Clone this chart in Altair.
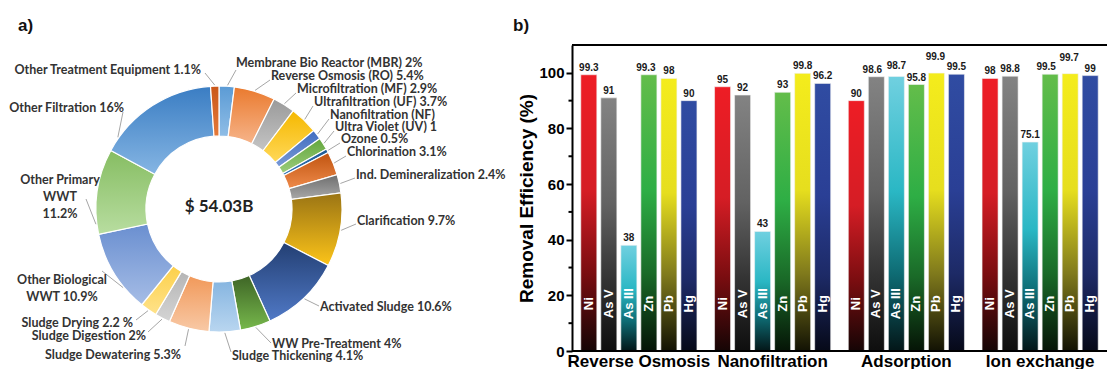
import math
import altair as alt
import pandas as pd

# ---------------- data: panel a (donut) ----------------
seg_names = [
    "Membrane Bio Reactor (MBR)", "Reverse Osmosis (RO)", "Microfiltration (MF)",
    "Ultrafiltration (UF)", "Nanofiltration (NF)", "Ultra Violet (UV)", "Ozone",
    "Chlorination", "Ind. Demineralization", "Clarification", "Activated Sludge",
    "WW Pre-Treatment", "Sludge Thickening", "Sludge Dewatering", "Sludge Digestion",
    "Sludge Drying", "Other Biological WWT", "Other Primary WWT", "Other Filtration",
    "Other Treatment Equipment",
]
seg_values = [2, 5.4, 2.9, 3.7, 1.3, 1.6, 0.5, 3.1, 2.4, 9.7, 10.6, 4, 4.1, 5.3, 2,
              2.2, 10.9, 11.2, 16, 1.1]
seg_label_lines = [
    ["Membrane Bio Reactor (MBR) 2%"], ["Reverse Osmosis (RO) 5.4%"],
    ["Microfiltration (MF) 2.9%"], ["Ultrafiltration (UF) 3.7%"],
    ["Nanofiltration (NF)"], ["Ultra Violet (UV) 1"], ["Ozone 0.5%"],
    ["Chlorination 3.1%"], ["Ind.  Demineralization 2.4%"], ["Clarification 9.7%"],
    ["Activated Sludge 10.6%"], ["WW Pre-Treatment 4%"], ["Sludge Thickening 4.1%"],
    ["Sludge Dewatering 5.3%"], ["Sludge Digestion 2%"], ["Sludge Drying 2.2 %"],
    ["Other Biological", "WWT 10.9%"], ["Other Primary", "WWT", "11.2%"],
    ["Other Filtration 16%"], ["Other Treatment Equipment 1.1%"],
]
center_text = "$ 54.03B"
panel_a = "a)"
panel_b = "b)"

# ---------------- data: panel b (bars) ----------------
methods = ["Reverse Osmosis", "Nanofiltration", "Adsorption", "Ion exchange"]
metals = ["Ni", "As V", "As III", "Zn", "Pb", "Hg"]
eff_ro = [99.3, 91, 38, 99.3, 98, 90]
eff_nf = [95, 92, 43, 93, 99.8, 96.2]
eff_ads = [90, 98.6, 98.7, 95.8, 99.9, 99.5]
eff_ix = [98, 98.8, 75.1, 99.5, 99.7, 99]
y_major = [0, 20, 40, 60, 80, 100]
y_minor = [10, 30, 50, 70, 90]
y_title = "Removal Efficiency (%)"

# ---------------- styles / layout ----------------
seg_colors = [
    ("#5b9bd5", "#8fbde6"), ("#ea7a2e", "#f6b48a"), ("#9a9a9a", "#c4c4c4"),
    ("#f5b800", "#ffd858"), ("#3f6cbf", "#7a9ad6"), ("#63a63c", "#9ccd7c"),
    ("#1f5a93", "#2e75b6"), ("#c0530f", "#ee8a4a"), ("#6e6e6e", "#a8a8a8"),
    ("#9a7414", "#fcc419"), ("#233f73", "#5079c6"), ("#3e6526", "#77b84c"),
    ("#86b5e0", "#b9d6f0"), ("#f1995a", "#f8c9a6"), ("#b5b5b5", "#d4d4d4"),
    ("#fcd04a", "#ffe28a"), ("#6a8fd0", "#a6bde6"), ("#86bd62", "#b8dda0"),
    ("#3a7dc3", "#85b5e3"), ("#c9571a", "#e57a3a"),
]
# page coordinates: text x, first-line y, align, leader end x, leader end y, anchor fraction
label_layout = [
    (236, 63, "left", 236, 70, 0.55), (271, 76, "left", 270, 80, 0.5),
    (297, 89, "left", 296, 93, 0.5), (314, 102, "left", 313, 106, 0.5),
    (330, 115, "left", 329, 119, 0.5), (335, 127, "left", 334, 131, 0.5),
    (341, 139, "left", 340, 143, 0.5), (347, 152, "left", 346, 156, 0.5),
    (356, 175, "left", 355, 178, 0.5), (357, 221, "left", 356, 224, 0.5),
    (320, 307, "left", 319, 306, 0.5), (272, 344, "left", 271, 343, 0.5),
    (232, 356, "left", 231, 352, 0.5), (181, 355, "right", 185, 346, 0.5),
    (146, 336, "right", 148, 332, 0.5), (133, 323, "right", 136, 320, 0.5),
    (62, 280, "center", 102, 271, 0.3), (60, 180, "center", 86, 199, 0.12),
    (124, 108, "right", 123, 112, 0.12), (201, 70, "right", 205, 73, 0.5),
]
VIEW_TOP = 45                       # page y of both panels' view origin
LEFT_X0, LEFT_Y0 = 8, VIEW_TOP      # page origin of the donut panel
LEFT_W = 500
PLOT_LEFT = 572                     # page x of the bar plot's y axis
CX, CY = 219 - LEFT_X0, 209 - LEFT_Y0
R_OUT, R_IN = 123, 73
LINE_H = 17
DONUT_FONT = "Lato"
BAR_FONT = "Liberation Sans"
PLOT_W, PLOT_H = 535, 306
BAR_OUTER = 0.44                    # xOffset outer padding (bar step = 20 px)

metal_grad = {
    "Ni": ["#ee1d25", "#d51d25", "#7a0d10", "#150505"],
    "As V": ["#838383", "#626262", "#333333", "#0e0e0e"],
    "As III": ["#70d0e0", "#2ab7c4", "#0e6b73", "#031618"],
    "Zn": ["#63bd4a", "#2eae45", "#1a6a28", "#051406"],
    "Pb": ["#f4ec1c", "#e6de1e", "#807a1c", "#121204"],
    "Hg": ["#304ca2", "#2a3f95", "#1d2a66", "#060918"],
}
grad_offsets = [0, 0.42, 0.72, 1]
label_nudge = {
    ("Reverse Osmosis", "Zn"): (-3, 0), ("Adsorption", "As V"): (-4, 0),
    ("Adsorption", "As III"): (0, -3), ("Adsorption", "Pb"): (-1, -9),
    ("Ion exchange", "Zn"): (-4, 0), ("Ion exchange", "Pb"): (-1, -9),
}

# ---------------- panel a ----------------
n = len(seg_values)
total = sum(seg_values)
donut_df = pd.DataFrame({"idx": list(range(n)), "name": seg_names, "value": seg_values})
theta_scale = alt.Scale(domain=[0, total], nice=False, zero=True)

left_layers = []
for i, (top, bot) in enumerate(seg_colors):
    grad = {"gradient": "linear", "x1": 0, "y1": 0, "x2": 0, "y2": 1,
            "stops": [{"offset": 0, "color": top}, {"offset": 1, "color": bot}]}
    left_layers.append(
        alt.Chart(donut_df)
        .transform_stack(stack="value", groupby=[], as_=["v0", "v1"],
                         sort=[alt.SortField("idx", order="ascending")])
        .transform_filter(alt.datum.idx == i)
        .mark_arc(fill=grad, stroke="white", strokeWidth=1.2,
                  innerRadius=R_IN, outerRadius=R_OUT)
        .encode(theta=alt.Theta("v0:Q", scale=theta_scale), theta2="v1:Q",
                x=alt.value(CX), y=alt.value(CY))
    )

lead_rows = []
cum = 0.0
for v, lay in zip(seg_values, label_layout):
    frac = lay[5]
    a = 2 * math.pi * (cum + frac * v) / total
    lead_rows.append({
        "x0": CX + (R_OUT + 1) * math.sin(a), "y0": CY - (R_OUT + 1) * math.cos(a),
        "x1": lay[3] - LEFT_X0, "y1": lay[4] - LEFT_Y0,
    })
    cum += v
lead_df = pd.DataFrame(lead_rows)
left_layers.append(
    alt.Chart(lead_df).mark_rule(color="#a6a6a6", strokeWidth=1).encode(
        x=alt.X("x0:Q", scale=None, axis=None), y=alt.Y("y0:Q", scale=None, axis=None),
        x2="x1:Q", y2="y1:Q")
)

lab_rows = []
for lines, lay in zip(seg_label_lines, label_layout):
    for k, t in enumerate(lines):
        lab_rows.append({"t": t, "px": lay[0] - LEFT_X0,
                         "py": lay[1] - LEFT_Y0 + k * LINE_H, "al": lay[2]})
lab_df = pd.DataFrame(lab_rows)
for al in ["left", "right", "center"]:
    left_layers.append(
        alt.Chart(lab_df).transform_filter(alt.datum.al == al)
        .mark_text(align=al, baseline="middle", font=DONUT_FONT, fontSize=12.5,
                   fontWeight="bold", color="#333333")
        .encode(x=alt.X("px:Q", scale=None, axis=None),
                y=alt.Y("py:Q", scale=None, axis=None), text="t:N")
    )

left_layers.append(
    alt.Chart(pd.DataFrame({"t": [center_text]}))
    .mark_text(align="center", baseline="middle", font=DONUT_FONT, fontSize=17,
               fontWeight="bold", color="#222222")
    .encode(text="t:N", x=alt.value(CX), y=alt.value(CY - 2))
)
left_layers.append(
    alt.Chart(pd.DataFrame({"t": [panel_a]}))
    .mark_text(align="left", baseline="middle", font=BAR_FONT, fontSize=17,
               fontWeight="bold", color="#111111")
    .encode(text="t:N", x=alt.value(18 - LEFT_X0), y=alt.value(26 - LEFT_Y0))
)
left = alt.layer(*left_layers).properties(width=LEFT_W, height=PLOT_H)

# ---------------- panel b ----------------
rows = []
for m, vals in zip(methods, [eff_ro, eff_nf, eff_ads, eff_ix]):
    for mt, v in zip(metals, vals):
        dx, dy = label_nudge.get((m, mt), (0, 0))
        rows.append({"method": m, "metal": mt, "value": v, "ndx": dx, "ndy": dy})
bars_df = pd.DataFrame(rows)

x_axis = alt.Axis(title=None, labelAngle=0, ticks=False, domain=False,
                  labelFont=BAR_FONT, labelFontSize=17, labelFontWeight="bold",
                  labelColor="black", labelPadding=2)
y_axis = alt.Axis(title=y_title, values=y_major, tickSize=6, tickWidth=2,
                  tickColor="black", domainWidth=2, domainColor="black", grid=False,
                  labelFont=BAR_FONT, labelFontSize=15, labelFontWeight="bold",
                  labelColor="black", labelPadding=2, titleFont=BAR_FONT,
                  titleFontSize=19, titleFontWeight="bold", titleColor="black",
                  titlePadding=2)
x_enc = alt.X("method:N", sort=methods,
              scale=alt.Scale(domain=methods, paddingInner=0, paddingOuter=0),
              axis=x_axis)
xo_enc = alt.XOffset("metal:N", sort=metals,
                     scale=alt.Scale(domain=metals, paddingInner=0.2, paddingOuter=BAR_OUTER))
y_scale = alt.Scale(domain=[0, 110], nice=False, zero=True)
y_enc = alt.Y("value:Q", scale=y_scale, axis=y_axis)

right_layers = []
for mt in metals:
    grad = {"gradient": "linear", "x1": 0, "y1": 0, "x2": 0, "y2": 1,
            "stops": [{"offset": o, "color": c} for o, c in zip(grad_offsets, metal_grad[mt])]}
    right_layers.append(
        alt.Chart(bars_df).transform_filter(alt.datum.metal == mt)
        .mark_bar(fill=grad, stroke="#f2f2f2", strokeWidth=0.6)
        .encode(x=x_enc, xOffset=xo_enc, y=y_enc)
    )

# top frame line and bottom axis line (the right edge is cut off as in the original)
right_layers.append(
    alt.Chart(pd.DataFrame({"value": [110, 0]}))
    .mark_rule(color="black", strokeWidth=2)
    .encode(y=y_enc, x=alt.value(0), x2=alt.value(PLOT_W))
)
right_layers.append(
    alt.Chart(pd.DataFrame({"value": y_minor}))
    .mark_rule(color="black", strokeWidth=2)
    .encode(y=y_enc, x=alt.value(-3.5), x2=alt.value(0))
)

nudges = sorted(set(label_nudge.values()) | {(0, 0)})
for dx, dy in nudges:
    right_layers.append(
        alt.Chart(bars_df)
        .transform_filter((alt.datum.ndx == dx) & (alt.datum.ndy == dy))
        .mark_text(baseline="bottom", align="center", dx=dx, dy=-2 + dy,
                   font=BAR_FONT, fontSize=10, fontWeight="bold", color="#1a1a1a")
        .encode(x=x_enc, xOffset=xo_enc, y=y_enc,
                text=alt.Text("value:Q", format="~g"))
    )

right_layers.append(
    alt.Chart(bars_df)
    .mark_text(angle=270, align="center", baseline="middle", font=BAR_FONT,
               fontSize=13, fontWeight="bold", color="white")
    .encode(x=x_enc, xOffset=xo_enc, y=alt.datum(17), text="metal:N")
)
right_layers.append(
    alt.Chart(pd.DataFrame({"t": [panel_b]}))
    .mark_text(align="left", baseline="middle", font=BAR_FONT, fontSize=17,
               fontWeight="bold", color="#111111")
    .encode(text="t:N", x=alt.value(-59), y=alt.value(26 - VIEW_TOP))
)
right = alt.layer(*right_layers).properties(width=PLOT_W, height=PLOT_H)

chart = (
    alt.hconcat(left, right, spacing=PLOT_LEFT - LEFT_X0 - LEFT_W, bounds="flush")
    .properties(padding={"left": 0, "top": 9, "right": 0, "bottom": 0})
    .configure_view(strokeWidth=0)
)

chart.save("out.html", embed_options={"renderer": "svg", "actions": False})
